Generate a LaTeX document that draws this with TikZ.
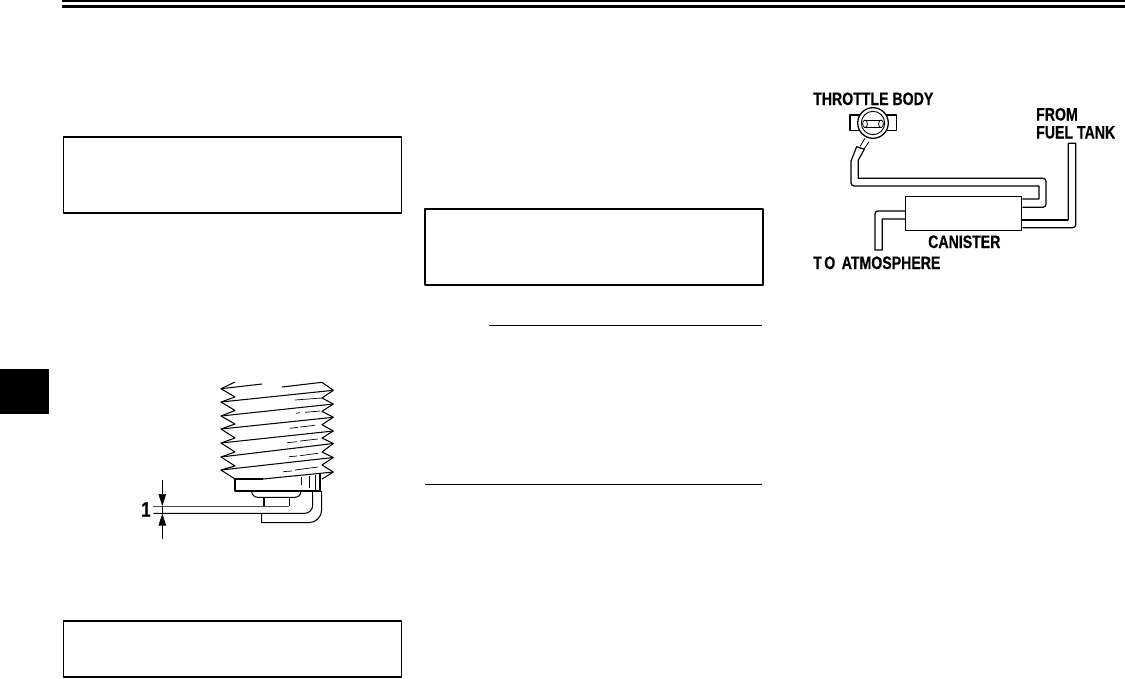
\documentclass[tikz,border=0pt]{standalone}
\usepackage{fontspec}
\setmainfont{Liberation Sans}[FakeStretch=0.785, BoldFeatures={FakeBold=0.5}]
\usetikzlibrary{arrows.meta, positioning, calc}
\begin{document}
\begin{tikzpicture}[x=1pt, y=-1pt, >=Stealth, line join=round,
    framebox/.style={draw, line width=1.7pt},
    rulethin/.style={line width=0.9pt},
    part/.style={line width=1.05pt},
    hose/.style={line width=1.2pt},
    callout/.style={font=\bfseries\fontsize{18}{20}\selectfont, inner sep=0pt, anchor=base west},
    dimarrow/.style={line width=0.6pt, -{Triangle[length=12pt, width=7.5pt]}}]
    \useasboundingbox (0,0) rectangle (1125,678);

    \fill (62,0) rectangle (1125,2);
    \fill (62,5) rectangle (1125,8);
    \fill (0,369) rectangle (49,413.7);
    \draw[framebox] (63.5,137) rectangle (401.5,212.7);
    \draw[framebox] (425.3,208.7) rectangle (763.3,285);
    \draw[framebox] (63.5,620.7) rectangle (401.5,677);
    \draw[rulethin] (489,325.3) -- (761.7,325.3);
    \draw[rulethin] (425,484.3) -- (761.7,484.3);

    \draw[part] (235,382) -- (221,388.7) -- (235,397) -- (221,402) -- (235,410.5) -- (221,416) -- (235,424) -- (221,429)
        -- (235,438) -- (221,443) -- (235,452) -- (221,457) -- (235,466) -- (221,470) -- (235,479);
    \draw[part] (322,382.3) -- (333.3,390.3) -- (322,398) -- (333.3,404) -- (322,411.3) -- (333.3,417.3) -- (322,424.7) -- (333.3,431)
        -- (322,438) -- (333.3,443.5) -- (322,452) -- (333.3,457.5) -- (322,465) -- (333.3,472) -- (322,479);
    \draw[part] (221,388.7) -- (262,384) (282,387) -- (322,382.3);
    \foreach \la/\ra in {402/390.3, 416/404, 429/417.3, 443/431, 457/443.5, 470/457.5}
        \draw[part] (221,\la) -- (333.3,\ra);
    \draw[part] (263,479) -- (333.3,472);
    \foreach \xa/\ya/\xb/\yb in {295/400/322/398, 296/413.3/300/412.7, 305/412.3/320/411, 290/428.3/298/427.3, 300/427/315/425.3,
        287/442.7/297/441.7, 300/441/318/439, 289/456.7/297/456, 300/455.7/318/453.3, 283/471.7/292/471, 295/470/318/467}
        \draw[line width=0.7pt] (\xa,\ya) -- (\xb,\yb);

    \draw[part] (235,479) -- (263,479) (235,479) -- (235,491) -- (321,491);
    \draw[line width=0.6pt] (301.7,477) -- (301.7,485) (309.3,476) -- (309.3,488) (315,475) -- (315,491);
    \draw[line width=1.6pt] (320,474) -- (320,491);
    \draw[part, rounded corners=6pt] (251.7,491) -- (251.7,497.3) -- (301,497.3) -- (301,491);
    \draw[part] (264,497.3) -- (264,506) (289.3,497.3) -- (289.3,506);
    \draw[line width=0.8pt, black!70] (153.3,506) -- (289.3,506);
    \draw[part, rounded corners=8pt] (153.3,513.3) -- (312.7,513.3) -- (312.7,491);
    \draw[part] (261.7,513.3) -- (261.7,522.7) -- (290,522.7) [rounded corners=13pt] -- (321.7,522.7) -- (321.7,491);

    \coordinate (gaptop) at (162.3,506);
    \coordinate (gapbot) at (162.3,513.5);
    \coordinate (dimtop) at (162.3,480);
    \coordinate (dimbot) at (162.3,539.3);
    \draw[dimarrow] (dimtop) -- (gaptop);
    \draw[dimarrow] (dimbot) -- (gapbot);
    \draw[line width=0.6pt] (gaptop) -- (gapbot);
    \node[font=\bfseries\fontsize{21}{23}\selectfont, inner sep=0pt, anchor=base] (gaplabel) at (146,516.7) {1};

    \node[callout] (throttle) at (813,105) {THROTTLE BODY};
    \node[callout] (fromtank) at (1036,120.5) {FROM};
    \node[callout] (fueltank) at (1036,138.5) {FUEL TANK};
    \node[callout] (canlabel) at (928,248) {CANISTER};
    \node[callout] (atmos) at (813,269) {T\kern2.5pt O\kern2.5pt\ ATMOSPHERE};

    \node[draw, line width=1.2pt, minimum width=116pt, minimum height=34pt, inner sep=0pt] (canister) at (963.7,213.7) {};

    \draw[hose] (canister.west |- 0,211) [rounded corners=3pt] -- (875,211) [sharp corners] -- (875,250) -- (882.3,250) -- (882.3,219) -- (canister.west |- 0,219);
    \draw[hose] (1068.3,220) -- (1068.3,143.3) -- (1075.7,143.3) [rounded corners=3pt] -- (1075.7,227.7) -- (canister.east |- 0,227.7);
    \draw[hose] (canister.east |- 0,220) -- (1068.3,220);
    \draw[hose] (canister.east |- 0,207.3) [rounded corners=3pt] -- (1046,207.3) -- (1046,178.3) -- (1000,178.3) [sharp corners] -- (858.3,178.3) -- (858.3,160) -- (864.3,149.3) -- (856.7,146.7) -- (851,161) [rounded corners=3pt] -- (851,186) -- (900,186) [sharp corners] -- (1039,186) -- (1039,199) -- (canister.east |- 0,199);
    \draw[line width=0.8pt] (860,146.5) -- (865,138.3) (864,149) -- (869,141.7);

    \draw[part] (850,115) rectangle (896.7,130.7);
    \draw[line width=1.3pt, fill=white] (873,123) circle (15.3);
    \draw[line width=0.9pt] (873,123) circle (11.7);
    \draw[line width=0.9pt] (864,120) -- (882,120) (864,127.7) -- (882,127.7);
    \draw[line width=0.8pt] (865,123.8) ellipse (2.4 and 3.8);
    \draw[line width=0.8pt] (881,123.8) ellipse (2.4 and 3.8);
\end{tikzpicture}
\end{document}
